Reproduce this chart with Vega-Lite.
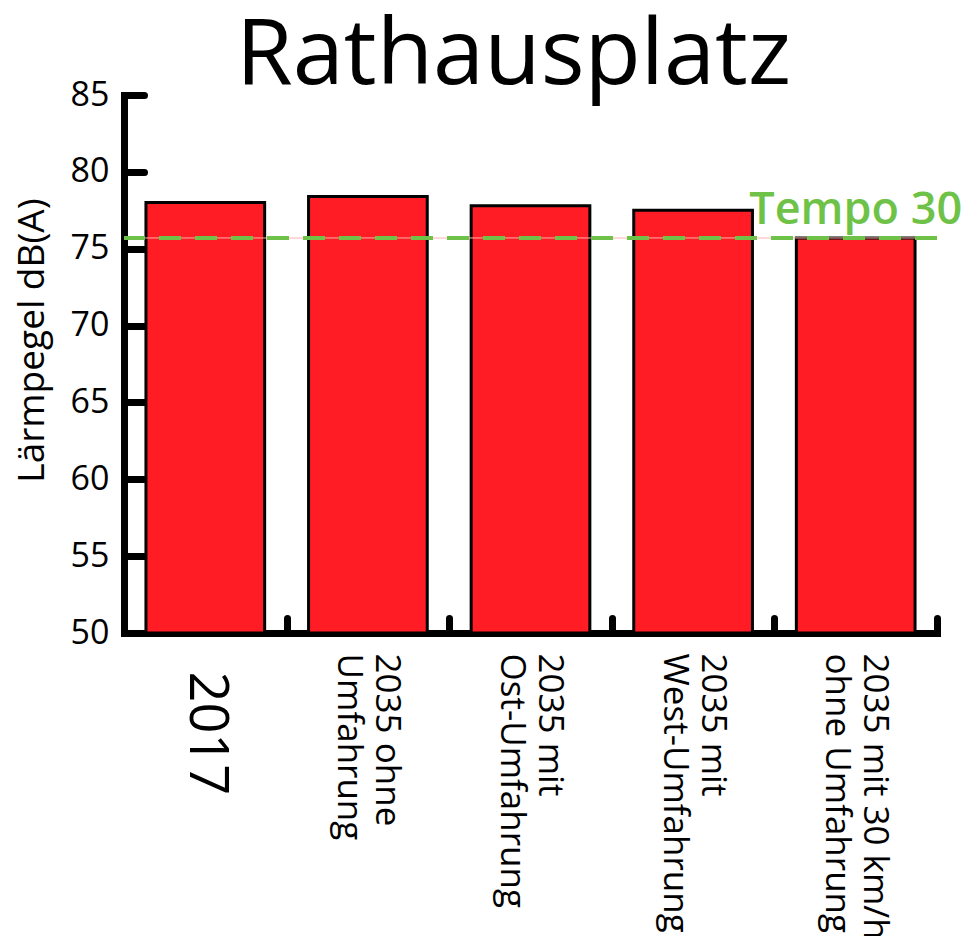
{
  "$schema": "https://vega.github.io/schema/vega-lite/v6.json",
  "width": 813,
  "height": 538,
  "autosize": {"type": "none"},
  "padding": {"left": 124, "top": 95, "right": 37, "bottom": 303},
  "background": "white",
  "config": {"view": {"stroke": null}, "font": "Open Sans"},
  "title": {"text": "Rathausplatz", "font": "Open Sans", "fontSize": 92, "fontWeight": "normal", "color": "black", "anchor": "middle", "offset": -25, "dx": -17},
  "data": {"values": [
    {"scenario": "2017", "level": 78.0},
    {"scenario": "2035 ohne|Umfahrung", "level": 78.4},
    {"scenario": "2035 mit|Ost-Umfahrung", "level": 77.8},
    {"scenario": "2035 mit|West-Umfahrung", "level": 77.5},
    {"scenario": "2035 mit 30 km/h|ohne Umfahrung", "level": 75.7}
  ]},
  "layer": [
    {
      "mark": {"type": "bar", "fill": "#FF1C24", "stroke": "black", "strokeWidth": 3, "width": {"band": 0.73}},
      "encoding": {
        "x": {"field": "scenario", "type": "nominal", "sort": null,
          "scale": {"paddingInner": 0, "paddingOuter": 0},
          "axis": {"title": null, "labelAngle": 90, "labelAlign": "left", "labelBaseline": "middle",
            "labelExpr": "split(datum.label, '|')",
            "labelFontSize": {"condition": {"test": "datum.value == '2017'", "value": 54}, "value": 35},
            "labelOffset": {"condition": {"test": "datum.value == '2017'", "value": 0}, "value": 19},
            "labelPadding": {"condition": {"test": "datum.value == '2017'", "value": 53}, "value": 35},
            "labelLineHeight": 38, "labelColor": "black", "labelFont": "Open Sans",
            "labelLimit": 400,
            "tickBand": "extent", "tickSize": -15, "tickWidth": 7, "tickColor": "black", "tickCap": "round",
            "domainWidth": 7, "domainColor": "black", "domainCap": "square"}},
        "y": {"field": "level", "type": "quantitative",
          "scale": {"domain": [50, 85], "zero": false, "nice": false},
          "axis": {"title": "Lärmpegel dB(A)", "titleFont": "Open Sans", "titleFontSize": 37, "titleFontWeight": "normal", "titleColor": "black",
            "titleAngle": 270, "titleX": -81, "titleY": 245, "titleAlign": "center", "titleBaseline": "alphabetic",
            "values": [50, 55, 60, 65, 70, 75, 80, 85], "grid": false,
            "labelFontSize": 34, "labelColor": "black", "labelFont": "Open Sans", "labelPadding": 35,
            "tickSize": -20, "tickWidth": 7, "tickColor": "black", "tickCap": "round",
            "domainWidth": 7, "domainColor": "black", "domainCap": "square"}},
        "y2": {"datum": 50}
      }
    },
    {
      "data": {"values": [{"limit": 75.7}]},
      "mark": {"type": "rule", "stroke": "#FFB3B3", "strokeWidth": 1},
      "encoding": {"y": {"field": "limit", "type": "quantitative"}}
    },
    {
      "data": {"values": [{"limit": 75.7}]},
      "mark": {"type": "rule", "stroke": "#6FC248", "strokeWidth": 4, "strokeDash": [22, 14]},
      "encoding": {"y": {"field": "limit", "type": "quantitative"}}
    },
    {
      "data": {"values": [{"limit": 75.7, "label": "Tempo 30", "pos": "2035 mit 30 km/h|ohne Umfahrung"}]},
      "mark": {"type": "text", "color": "#6FC248", "font": "Open Sans", "fontSize": 45, "fontWeight": 600, "align": "center", "baseline": "alphabetic", "dy": -14},
      "encoding": {
        "x": {"field": "pos", "type": "nominal", "sort": null},
        "y": {"field": "limit", "type": "quantitative"},
        "text": {"field": "label"}
      }
    }
  ]
}
